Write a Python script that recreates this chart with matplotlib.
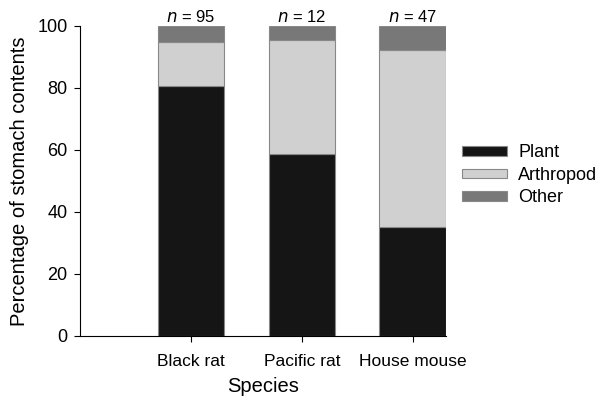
import matplotlib
matplotlib.use("Agg")
import matplotlib.pyplot as plt
import numpy as np

# stacked diet composition
species = ["Black rat", "Pacific rat", "House mouse"]
sample_n = [95, 12, 47]
plant = [80.6, 58.7, 35.2]
arthropod = [14.1, 36.8, 57.1]
other = [5.3, 4.5, 7.7]

plt.rcParams['font.family'] = ['Liberation Sans', 'DejaVu Sans']

fig = plt.figure(figsize=(6.06, 3.99), dpi=100)
ax = fig.add_axes([0.132, 0.158, 0.604, 0.777])

x = np.arange(len(species))
w = 0.6
edge = "#888888"
ax.bar(x, plant, w, color="#151515", edgecolor=edge, linewidth=0.8, label="Plant")
ax.bar(x, arthropod, w, bottom=plant, color="#d0d0d0", edgecolor=edge, linewidth=0.8, label="Arthropod")
bottom2 = [p + a for p, a in zip(plant, arthropod)]
ax.bar(x, other, w, bottom=bottom2, color="#787878", edgecolor=edge, linewidth=0.8, label="Other")

for xi, n in zip(x, sample_n):
    ax.text(xi, 100.3, f"$n$ = {n}", ha="center", va="bottom", fontsize=12)

ax.set_xlim(-1.0, 2.3)
ax.set_ylim(0, 100)
ax.set_yticks(range(0, 101, 20))
ax.set_xticks(x)
ax.set_xticklabels(species)
ax.tick_params(axis='y', labelsize=13, length=4, width=0.8, pad=5)
ax.tick_params(axis='x', labelsize=12.5, length=4, width=0.8, pad=9)
ax.spines['top'].set_visible(False)
ax.spines['right'].set_visible(False)
ax.set_xlabel("Species", fontsize=14.5, labelpad=6)
ax.set_ylabel("Percentage of stomach contents", fontsize=14.5, labelpad=6)

ax.legend(loc="center left", bbox_to_anchor=(1.0, 0.518), frameon=False, fontsize=13,
          handlelength=2.5, handleheight=0.45, labelspacing=0.3, handletextpad=0.6)

fig.savefig("out.png", dpi=100)
